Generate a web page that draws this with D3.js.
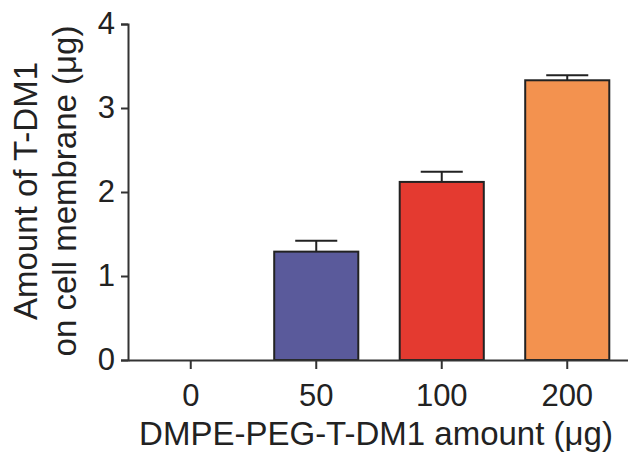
<!DOCTYPE html>
<html>
<head>
<meta charset="utf-8">
<script src="https://cdn.jsdelivr.net/npm/d3@7"></script>
<style>
  body { margin: 0; background: #fff; }
  text { font-family: "Liberation Sans", Arial, sans-serif; fill: #222; }
</style>
</head>
<body>
<div id="chart"></div>
<script>
// data
const doses = ['0', '50', '100', '200'];
const amounts = [0, 1.29, 2.12, 3.33];
const errors = [0, 0.13, 0.12, 0.06];
const colors = ['#ffffff', '#5a5a9b', '#e43a30', '#f3924f'];
const yTicks = [0, 1, 2, 3, 4];

const width = 628, height = 459;
const margin = { left: 128, right: 630, top: 24, bottom: 360 };

const svg = d3.select('#chart').append('svg')
    .attr('width', width)
    .attr('height', height);

const x = d3.scaleBand()
    .domain(doses)
    .range([margin.left, margin.right])
    .paddingInner(0.33)
    .paddingOuter(0.165);

const y = d3.scaleLinear()
    .domain([0, 4])
    .range([margin.bottom, margin.top]);

// bars
const data = doses.map((d, i) => ({ dose: d, value: amounts[i], err: errors[i], color: colors[i] }));
const bars = data.filter(d => d.value > 0);

// error bars (upper only)
const capW = x.bandwidth() * 0.5;
svg.selectAll('.err')
    .data(bars)
    .enter()
    .append('line')
    .attr('x1', d => x(d.dose) + x.bandwidth() / 2)
    .attr('x2', d => x(d.dose) + x.bandwidth() / 2)
    .attr('y1', d => y(d.value))
    .attr('y2', d => y(d.value + d.err))
    .attr('stroke', '#222')
    .attr('stroke-width', 2);

svg.selectAll('.cap')
    .data(bars)
    .enter()
    .append('line')
    .attr('x1', d => x(d.dose) + x.bandwidth() / 2 - capW / 2)
    .attr('x2', d => x(d.dose) + x.bandwidth() / 2 + capW / 2)
    .attr('y1', d => y(d.value + d.err))
    .attr('y2', d => y(d.value + d.err))
    .attr('stroke', '#222')
    .attr('stroke-width', 2);

svg.selectAll('.bar')
    .data(bars)
    .enter()
    .append('rect')
    .attr('x', d => x(d.dose))
    .attr('y', d => y(d.value))
    .attr('width', x.bandwidth())
    .attr('height', d => y(0) - y(d.value))
    .attr('fill', d => d.color)
    .attr('stroke', '#222')
    .attr('stroke-width', 2);

// y axis
const yAxis = svg.append('g')
    .attr('transform', 'translate(' + margin.left + ',0)')
    .call(d3.axisLeft(y).tickValues(yTicks).tickSize(7).tickPadding(6).tickFormat(d3.format('d')));

// x axis
const xAxis = svg.append('g')
    .attr('transform', 'translate(0,' + margin.bottom + ')')
    .call(d3.axisBottom(x).tickSize(9).tickPadding(15).tickSizeOuter(0));

[yAxis, xAxis].forEach(g => {
    g.select('.domain').attr('stroke', '#333').attr('stroke-width', 2);
    g.selectAll('.tick line').attr('stroke', '#333').attr('stroke-width', 2);
    g.selectAll('text')
        .style('font-family', '"Liberation Sans", Arial, sans-serif')
        .style('font-size', '31px')
        .attr('fill', '#222');
});

// axis titles
svg.append('text')
    .attr('x', 376)
    .attr('y', 445)
    .attr('text-anchor', 'middle')
    .style('font-size', '33px')
    .text('DMPE-PEG-T-DM1 amount (μg)');

const yLab = svg.append('text')
    .attr('transform', 'translate(0,191) rotate(-90)')
    .attr('text-anchor', 'middle')
    .style('font-size', '33px');
yLab.append('tspan').attr('x', 0).attr('y', 37).text('Amount of T-DM1');
yLab.append('tspan').attr('x', 0).attr('y', 76).text('on cell membrane (μg)');
</script>
</body>
</html>
